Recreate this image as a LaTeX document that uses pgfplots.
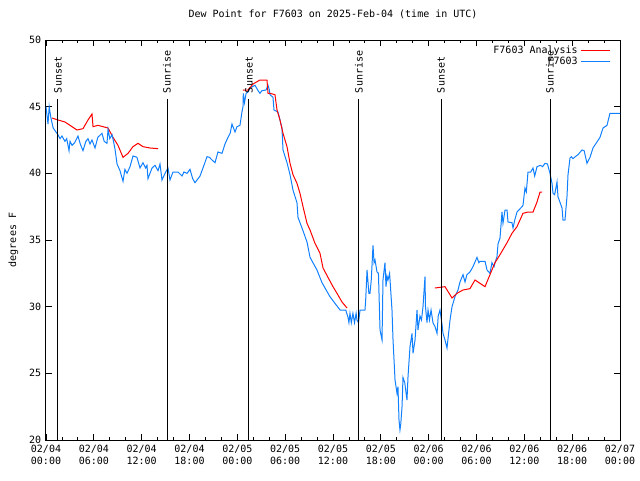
\documentclass[border=0pt]{standalone}
\usepackage{pgfplots}
\pgfplotsset{compat=1.18}
\usepackage{fontspec}
\setmainfont{DejaVu Sans Mono}
\definecolor{obsblue}{RGB}{16,128,255}
\definecolor{anared}{RGB}{255,0,0}
\begin{document}
\fontsize{7.5}{9}\selectfont
\begin{tikzpicture}
\useasboundingbox (-34.5pt,-30pt) rectangle (445.5pt,330pt);
\begin{axis}[
  scale only axis, width=430.5pt, height=300pt,
  at={(0,0)}, anchor=south west,
  xmin=0, xmax=72, ymin=20, ymax=50,
  axis line style={line width=0.75pt},
  every tick/.style={black, line width=0.6pt},
  tick align=inside,
  major tick length=4.5pt, minor tick length=2.5pt,
  xtick={0,6,...,72}, minor x tick num=2,
  xticklabels={{02/04\\00:00},{02/04\\06:00},{02/04\\12:00},{02/04\\18:00},{02/05\\00:00},{02/05\\06:00},{02/05\\12:00},{02/05\\18:00},{02/06\\00:00},{02/06\\06:00},{02/06\\12:00},{02/06\\18:00},{02/07\\00:00}},
  xticklabel style={align=center, font=\fontsize{7.5}{9}\selectfont, yshift=-1pt},
  ytick={20,25,...,50},
  yticklabel style={font=\fontsize{7.5}{9}\selectfont, xshift=-1pt},
  /pgf/number format/assume math mode=true,
  title={Dew Point for F7603 on 2025-Feb-04 (time in UTC)},
  title style={at={(0.5,1)}, anchor=base, yshift=11.25pt, font=\fontsize{7.5}{9}\selectfont},
  ylabel={degrees F},
  every axis y label/.style={at={(axis description cs:0,0.5)}, rotate=90, anchor=center, yshift=24.5pt, font=\fontsize{7.5}{9}\selectfont},
  legend plot pos=right,
  legend cell align=right,
  legend style={at={(1,1)}, anchor=north east, draw=none, fill=none, xshift=-6pt, yshift=-1pt,
    font=\fontsize{7.5}{9}\selectfont, row sep=-2pt, inner sep=1pt},
  legend image code/.code={\draw[#1] (0pt,0pt) -- (21.75pt,0pt);},
  clip=true,
]
% Analysis (red), first segment
\addplot[anared, line width=0.75pt] coordinates {
(0.75,44.15)(1.5,44.0)(2.38,43.85)(3.26,43.5)(3.89,43.25)(4.64,43.35)(5.27,44.0)(5.77,44.45)(5.9,43.5)(6.52,43.6)(7.15,43.5)(7.78,43.4)(8.40,42.7)(9.03,42.1)(9.66,41.2)(10.29,41.5)(10.91,42.0)(11.54,42.25)(12.17,42.0)(13.05,41.9)(14.05,41.85)
};
\addlegendentry{F7603 Analysis}
% Observations (blue)
\addplot[obsblue, line width=0.75pt] coordinates {
(0,45.0)(0.25,43.7)(0.4,45.0)(0.6,44.2)(0.9,43.4)(1.13,43.2)(1.5,42.9)(1.76,42.6)(2.0,42.8)(2.38,42.4)(2.6,42.6)(2.89,41.7)(3.01,42.4)(3.26,42.1)(3.6,42.3)(4.01,42.8)(4.3,42.2)(4.64,41.7)(5.0,42.4)(5.27,42.6)(5.52,42.2)(5.77,42.5)(6.15,41.9)(6.5,42.7)(7.02,43.0)(7.3,42.4)(7.65,42.25)(7.78,43.3)(8.0,42.6)(8.28,42.9)(8.5,42.3)(8.66,41.8)(8.91,40.7)(9.28,40.2)(9.66,39.4)(9.9,40.3)(10.16,40.0)(10.54,40.5)(10.91,41.3)(11.41,41.2)(11.79,40.4)(12.17,40.8)(12.5,40.4)(12.67,40.6)(12.79,39.6)(13.3,40.4)(13.67,40.6)(14.05,40.2)(14.3,40.7)(14.55,39.5)(14.93,40.0)(15.3,40.4)(15.55,39.5)(15.93,40.1)(16.56,40.1)(17.06,39.8)(17.3,40.1)(17.69,40.0)(18.06,40.3)(18.4,39.6)(18.69,39.3)(19.32,39.8)(19.69,40.4)(20.2,41.25)(20.5,41.2)(20.82,41.0)(21.2,40.8)(21.57,41.6)(22.08,41.5)(22.45,42.2)(22.83,42.7)(23.1,43.0)(23.33,43.7)(23.71,43.1)(23.96,43.5)(24.33,43.6)(24.58,44.6)(24.71,45.0)(24.75,46.0)(24.9,45.3)(25.1,46.0)(25.34,46.1)(25.59,46.4)(26.22,46.6)(26.6,46.2)(26.84,46.0)(27.09,46.2)(27.6,46.25)(27.85,46.6)(28.0,46.3)(28.1,45.9)(28.47,45.7)(28.6,44.75)(29.1,44.6)(29.6,43.4)(29.73,41.75)(30.23,40.8)(30.61,39.9)(30.98,38.75)(31.48,37.8)(31.61,36.7)(32.11,35.9)(32.74,34.85)(33.12,33.7)(33.99,32.75)(34.62,31.8)(35.62,30.75)(36.88,29.75)(37.6,29.75)(37.88,29.2)(38.0,28.8)(38.13,29.5)(38.3,28.8)(38.5,29.5)(38.7,28.8)(38.9,29.5)(39.01,29.0)(39.2,28.8)(39.39,29.75)(40.01,29.75)(40.1,30.5)(40.27,32.75)(40.5,31.0)(40.64,31.0)(40.8,32.0)(41.02,34.6)(41.15,33.3)(41.27,33.5)(41.52,32.6)(41.7,32.5)(41.9,28.25)(42.15,27.5)(42.27,32.0)(42.52,33.3)(42.65,31.5)(42.77,32.3)(42.9,32.0)(43.1,32.5)(43.4,29.75)(43.53,27.5)(43.78,24.5)(44.03,23.5)(44.15,24.0)(44.28,21.5)(44.4,20.75)(44.5,21.2)(44.66,22.5)(44.78,24.7)(45.0,24.3)(45.28,23.0)(45.41,24.75)(45.66,27.0)(45.91,28.0)(46.04,26.5)(46.29,27.5)(46.54,29.75)(46.66,28.25)(46.91,29.3)(47.1,29.0)(47.29,30.0)(47.54,32.25)(47.6,30.0)(47.79,28.8)(47.92,29.75)(48.1,29.0)(48.3,29.75)(48.54,28.8)(48.8,28.5)(49.05,28.0)(49.2,29.3)(49.42,29.75)(49.67,28.7)(49.8,28.0)(50.05,27.5)(50.3,26.9)(50.68,29.0)(50.93,30.0)(51.3,30.75)(51.68,31.25)(51.93,31.85)(52.31,32.4)(52.56,31.85)(52.8,32.4)(53.18,32.6)(53.56,33.0)(54.06,33.7)(54.3,33.3)(54.44,33.4)(55.07,33.4)(55.32,32.75)(55.69,32.5)(55.94,33.3)(56.2,33.0)(56.32,33.3)(56.57,33.75)(56.7,34.7)(56.95,35.15)(57.2,37.1)(57.32,36.25)(57.58,37.25)(57.83,37.25)(57.95,36.35)(58.45,36.3)(58.58,35.9)(58.8,36.5)(59.08,37.1)(59.71,37.5)(59.83,37.6)(60.08,38.9)(60.25,38.6)(60.46,40.1)(60.8,40.1)(61.09,40.4)(61.3,39.8)(61.59,40.5)(62.0,40.6)(62.3,40.5)(62.59,40.75)(62.9,40.7)(63.22,40.0)(63.47,39.25)(63.6,38.5)(63.8,38.4)(64.1,39.35)(64.22,38.25)(64.73,37.4)(64.85,36.5)(65.1,36.5)(65.35,38.25)(65.48,39.9)(65.73,41.15)(65.9,41.25)(66.1,41.1)(66.4,41.25)(66.73,41.4)(67.23,41.75)(67.5,41.7)(67.86,40.75)(68.24,41.2)(68.61,41.9)(69.11,42.35)(69.49,42.7)(69.87,43.4)(70.37,43.6)(70.74,44.5)(72,44.5)
};
\addlegendentry{F7603}
% Analysis (red), further segments
\addplot[anared, line width=0.75pt, forget plot] coordinates {
(24.71,46.25)(25.34,46.25)(25.97,46.7)(26.84,47.0)(27.72,47.0)(27.85,46.0)(28.10,46.0)(28.72,45.9)(28.98,44.75)(29.35,44.0)(29.73,43.0)(30.23,42.0)(30.61,40.75)(30.98,39.9)(31.48,39.25)(31.86,38.5)(32.24,37.5)(32.74,36.25)(33.12,35.75)(33.74,34.75)(34.37,34.0)(34.75,32.9)(35.37,32.2)(36.0,31.5)(36.5,31.0)(37.13,30.35)(37.76,29.9)
};
\addplot[anared, line width=0.75pt, forget plot] coordinates {
(48.79,31.4)(50.05,31.5)(50.93,30.65)(51.55,31.0)(52.31,31.25)(53.18,31.35)(53.81,32.0)(55.07,31.5)(55.69,32.4)(56.32,33.3)(56.95,33.9)(57.83,34.8)(58.45,35.5)(59.08,36.0)(59.83,37.0)(60.46,37.1)(61.09,37.1)(61.59,37.85)(61.97,38.6)(62.22,38.6)
};
% Sunrise / sunset lines
\addplot[black, line width=0.75pt, forget plot] coordinates {(1.5,20)(1.5,45.575)};
\addplot[black, line width=0.75pt, forget plot] coordinates {(15.18,20)(15.18,45.575)};
\addplot[black, line width=0.75pt, forget plot] coordinates {(25.46,20)(25.46,45.575)};
\addplot[black, line width=0.75pt, forget plot] coordinates {(39.26,20)(39.26,45.575)};
\addplot[black, line width=0.75pt, forget plot] coordinates {(49.55,20)(49.55,45.575)};
\addplot[black, line width=0.75pt, forget plot] coordinates {(63.22,20)(63.22,45.575)};
\end{axis}
\begin{scope}[x=430.5pt/72, y=300pt/30]
\foreach \h/\t in {1.5/Sunset,15.18/Sunrise,25.46/Sunset,39.26/Sunrise,49.55/Sunset,63.22/Sunrise}{
  \node[rotate=90, anchor=west, inner sep=0pt, xshift=0.8pt, font=\fontsize{7.5}{9}\selectfont] at (\h,{45.575-20+0.35}) {\t};
}
\end{scope}
\end{tikzpicture}
\end{document}
